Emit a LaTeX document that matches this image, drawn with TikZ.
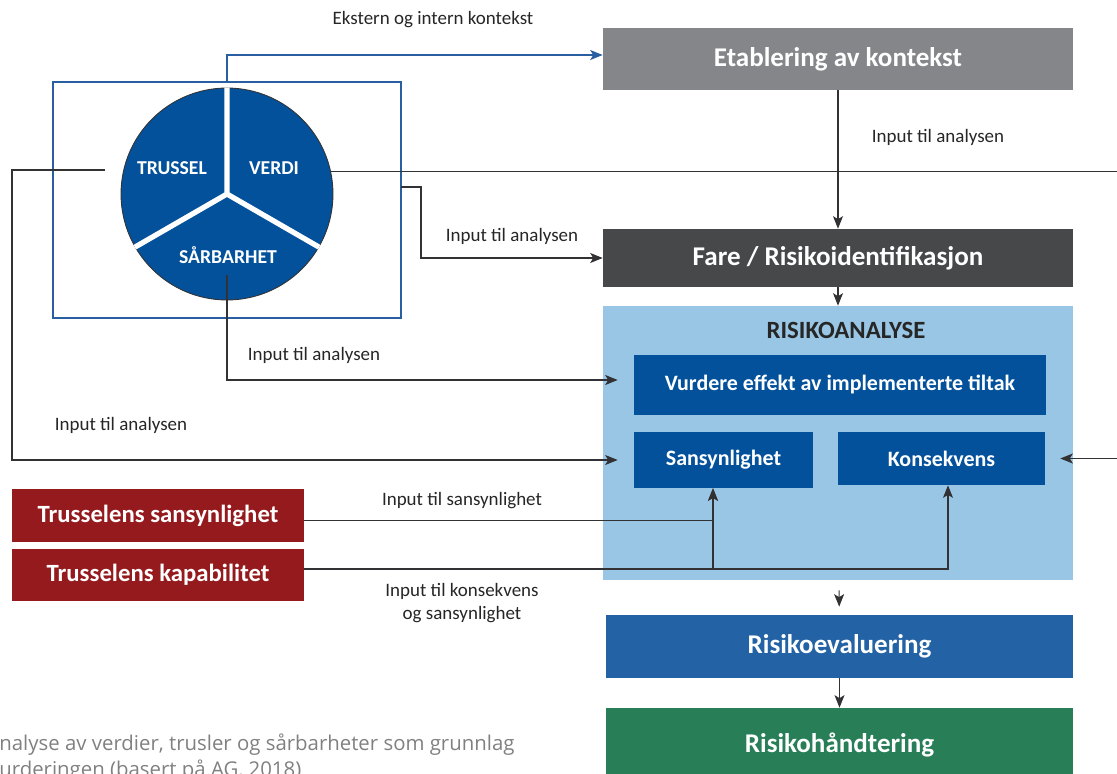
\documentclass[tikz,border=0pt]{standalone}
\usepackage{fontspec}
\setmainfont{Carlito}
\newfontfamily\capfont{Open Sans}
\usetikzlibrary{arrows.meta}

\definecolor{pieblue}{RGB}{3,81,155}
\definecolor{framblue}{RGB}{42,94,163}
\definecolor{etabgray}{RGB}{133,134,137}
\definecolor{faregray}{RGB}{71,72,74}
\definecolor{analyseblue}{RGB}{152,198,228}
\definecolor{evalblue}{RGB}{34,98,165}
\definecolor{handtgreen}{RGB}{39,126,87}
\definecolor{threatred}{RGB}{149,26,29}
\definecolor{linegray}{RGB}{50,50,52}

\tikzset{
  stagebox/.style={rectangle, inner sep=0pt, text=white, minimum width=9.4cm,
    font=\fontsize{15.4}{17}\selectfont\bfseries},
  innerbox/.style={rectangle, inner sep=0pt, fill=pieblue, text=white,
    font=\fontsize{12.5}{14}\selectfont\bfseries},
  threatbox/.style={rectangle, inner sep=0pt, fill=threatred, text=white,
    minimum width=5.84cm, font=\fontsize{14.1}{16}\selectfont\bfseries},
  pietext/.style={text=white, font=\fontsize{11.2}{13}\selectfont\bfseries},
  lbl/.style={text=black!85, font=\fontsize{10.8}{13}\selectfont, align=center},
  tip/.style={-{Stealth[length=0.25cm,width=0.2cm,inset=0.06cm]}},
  conn/.style={draw=linegray, line width=0.6pt},
}

\begin{document}
\begin{tikzpicture}[x=0.02cm,y=-0.02cm]
\clip (0,0) rectangle (1117,774);

\node[stagebox, fill=etabgray, minimum height=1.24cm] (etab) at (838,59) {Etablering av kontekst};
\node[stagebox, fill=faregray, minimum height=1.16cm] (fare) at (838,258) {Fare / Risikoidentifikasjon};
\node[rectangle, fill=analyseblue, minimum width=9.4cm, minimum height=5.48cm] (analyse) at (838,443) {};
\node[text=black!85, font=\fontsize{14.1}{16}\selectfont\bfseries] (analysetitle) at (846,330) {RISIKOANALYSE};
\node[innerbox, minimum width=8.24cm, minimum height=1.2cm] (vurd) at (840,385) {Vurdere effekt av implementerte tiltak};
\node[innerbox, minimum width=3.58cm, minimum height=1.12cm] (sans) at (723.5,460) {Sansynlighet};
\node[innerbox, minimum width=4.14cm, minimum height=1.06cm] (kons) at (941.5,458.5) {Konsekvens};
\node[stagebox, fill=evalblue, minimum width=9.34cm, minimum height=1.26cm] (eval) at (839.5,646.5) {Risikoevaluering};
\node[stagebox, fill=handtgreen, minimum width=9.34cm, minimum height=1.48cm] (handt) at (839.5,745) {Risikohåndtering};

\node[threatbox, minimum height=1.06cm] (trsan) at (158,515.5) {Trusselens sansynlighet};
\node[threatbox, minimum height=1.04cm] (trkap) at (158,575) {Trusselens kapabilitet};

\node[rectangle, draw=framblue, line width=0.8pt, minimum width=6.96cm, minimum height=4.72cm] (frame) at (227,200) {};
\node[circle, fill=pieblue, draw=black!80, line width=0.5pt, minimum size=4.24cm, inner sep=0pt] (pie) at (227,194) {};
\draw[white, line width=3pt] (pie.center) -- (pie.90) (pie.center) -- (pie.210) (pie.center) -- (pie.330);
\node[pietext] (trussel) at (172,168) {TRUSSEL};
\node[pietext] (verdi) at (274,168) {VERDI};
\node[pietext] (sarbarhet) at (228,255) {SÅRBARHET};

\coordinate (trsrc) at (105,170);
\coordinate (fsrc) at (401,187);
\coordinate (sbsrc) at (227,275);

\draw[draw=framblue, line width=0.8pt, tip] (frame.north) |- ([yshift=0.08cm]etab.west);
\draw[conn, tip] (etab) -- (fare);
\draw[conn, tip] (fare) -- (analyse);
\draw[conn, tip, shorten <=0.2cm, shorten >=0.16cm] (analyse) -- (eval);
\draw[conn, tip] (eval) -- (handt);

\draw[conn, tip] (fsrc) -- ++(20,0) |- (fare.west);
\draw[conn, tip, shorten >=0.32cm] (sbsrc) |- ([yshift=0.1cm]vurd.west);
\draw[conn, tip, shorten >=0.32cm] (trsrc) -- ++(-93,0) |- (sans.west);
\draw[conn, tip, shorten >=0.3cm] (pie.12) -- ++(820,0) |- (kons.east);
\draw[conn, tip] ([yshift=-0.1cm]trsan.east) -| ([xshift=-0.21cm]sans.south);
\draw[conn, tip] ([yshift=0.12cm]trkap.east) -| ([xshift=-0.21cm]sans.south);
\draw[conn, tip] ([yshift=0.12cm]trkap.east) -| ([xshift=0.13cm]kons.south);

\node[lbl] (l1) at (433,20) {Ekstern og intern kontekst};
\node[lbl] (l2) at (938,137) {Input til analysen};
\node[lbl] (l3) at (512,236) {Input til analysen};
\node[lbl] (l4) at (314,355) {Input til analysen};
\node[lbl] (l5) at (121,425) {Input til analysen};
\node[lbl] (l6) at (462,501) {Input til sansynlighet};
\node[lbl] (l7) at (462,603) {Input til konsekvens\\og sansynlighet};

\node[anchor=west, inner sep=0pt, text=black!50, font=\capfont\fontsize{11.6}{13}\selectfont] (cap1) at (-1,745) {nalyse av verdier, trusler og sårbarheter som grunnlag};
\node[anchor=west, inner sep=0pt, text=black!50, font=\capfont\fontsize{11.6}{13}\selectfont] (cap2) at (-1,771) {urderingen (basert på AG, 2018)};
\end{tikzpicture}
\end{document}
